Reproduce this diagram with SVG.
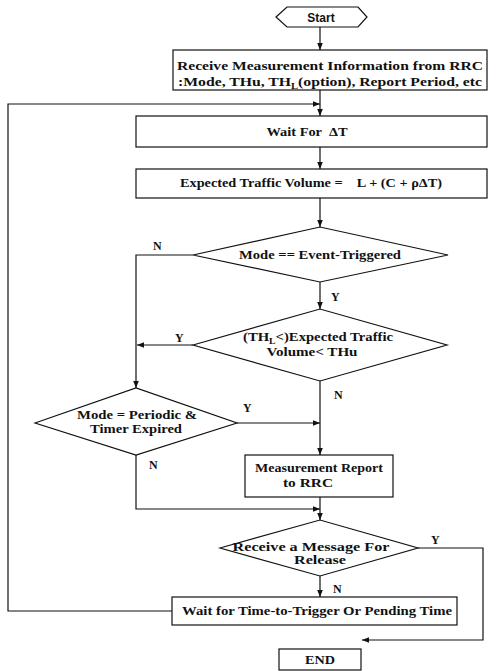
<svg xmlns="http://www.w3.org/2000/svg" width="501" height="671" viewBox="0 0 501 671">
<defs>
<marker id="ah" viewBox="0 0 10 10" refX="10" refY="5" markerWidth="7" markerHeight="7" markerUnits="userSpaceOnUse" orient="auto">
<path d="M0,1 L10,5 L0,9 Z" fill="#111"/>
</marker>
</defs>
<style>
.s{fill:#fff;stroke:#111;stroke-width:1.2}
.t{font-family:"Liberation Serif","Times New Roman",serif;font-size:12px;font-weight:bold;fill:#111;text-anchor:middle;white-space:pre}
.l{font-family:"Liberation Serif","Times New Roman",serif;font-size:12px;font-weight:bold;fill:#111}
.c{fill:none;stroke:#111;stroke-width:1.2;marker-end:url(#ah)}
.p{fill:none;stroke:#111;stroke-width:1.2}
</style>
<rect width="501" height="671" fill="#fff"/>
<g id="connectors">
<path class="c" d="M320,27 V50"/>
<path class="c" d="M320,90 V116"/>
<path class="c" d="M172,611 H8 V104 H320"/>
<path class="c" d="M320,147 V169"/>
<path class="c" d="M320,198 V227"/>
<path class="c" d="M193,255 H136 V388"/>
<path class="c" d="M320,282 V309"/>
<path class="c" d="M193,345 H137"/>
<path class="c" d="M320,381 V455"/>
<path class="c" d="M237,423 H320"/>
<path class="c" d="M136,455 V509 H320"/>
<path class="c" d="M320,497 V520"/>
<path class="c" d="M418,548 H483 V640 H362"/>
<path class="c" d="M320,576 V597"/>
<text class="l" x="153" y="250">N</text>
<text class="l" x="331" y="301">Y</text>
<text class="l" x="175" y="342">Y</text>
<text class="l" x="334" y="399">N</text>
<text class="l" x="243" y="412">Y</text>
<text class="l" x="149" y="469">N</text>
<text class="l" x="431" y="544">Y</text>
<text class="l" x="333" y="593">N</text>
</g>
<g id="start">
<polygon class="s" points="276,17 287,7 358,7 367,17 358,27 287,27"/>
<text x="321" y="21.500" style="font-family:'Liberation Sans',Arial,sans-serif;font-size:12px;font-weight:bold;fill:#111;text-anchor:middle">Start</text>
</g>
<g id="receive-info">
<rect class="s" x="173" y="50" width="314" height="40"/>
<text class="t" x="330" y="70" textLength="306" lengthAdjust="spacingAndGlyphs">Receive Measurement Information from RRC</text>
<text class="t" x="330" y="86" textLength="304" lengthAdjust="spacingAndGlyphs">:Mode, THu, TH<tspan font-size="8" dy="3">L</tspan><tspan dy="-3">(option), Report Period, etc</tspan></text>
</g>
<g id="wait-dt">
<rect class="s" x="136" y="116" width="351" height="31"/>
<text class="t" x="307" y="136" textLength="81" lengthAdjust="spacingAndGlyphs" xml:space="preserve">Wait For  ΔT</text>
</g>
<g id="expected-volume">
<rect class="s" x="136" y="169" width="351" height="29"/>
<text class="t" x="311" y="187" textLength="262" lengthAdjust="spacingAndGlyphs" xml:space="preserve">Expected Traffic Volume =    L + (C + ρΔT)</text>
</g>
<g id="mode-event">
<polygon class="s" points="193,255 320,227 448,255 320,282"/>
<text class="t" x="320" y="259" textLength="162" lengthAdjust="spacingAndGlyphs">Mode == Event-Triggered</text>
</g>
<g id="threshold-check">
<polygon class="s" points="193,345 320,309 447,345 320,381"/>
<text class="t" x="318" y="341" textLength="150" lengthAdjust="spacingAndGlyphs">(TH<tspan font-size="8" dy="3">L</tspan><tspan dy="-3">&lt;)Expected Traffic</tspan></text>
<text class="t" x="312" y="356" textLength="91" lengthAdjust="spacingAndGlyphs">Volume&lt; THu</text>
</g>
<g id="mode-periodic">
<polygon class="s" points="35,423 136,388 237,423 136,455"/>
<text class="t" x="137" y="419" textLength="120" lengthAdjust="spacingAndGlyphs">Mode = Periodic &amp;</text>
<text class="t" x="136" y="433" textLength="92" lengthAdjust="spacingAndGlyphs">Timer Expired</text>
</g>
<g id="measurement-report">
<rect class="s" x="245" y="455" width="148" height="42"/>
<text class="t" x="319" y="472" textLength="128" lengthAdjust="spacingAndGlyphs">Measurement Report</text>
<text class="t" x="308" y="487" textLength="50" lengthAdjust="spacingAndGlyphs">to RRC</text>
</g>
<g id="release-check">
<polygon class="s" points="220,548 320,520 418,548 320,576"/>
<text class="t" x="311" y="551" textLength="157" lengthAdjust="spacingAndGlyphs">Receive a Message For</text>
<text class="t" x="320" y="564" textLength="52" lengthAdjust="spacingAndGlyphs">Release</text>
</g>
<g id="wait-trigger">
<rect class="s" x="172" y="597" width="285" height="28"/>
<text class="t" x="317" y="615" textLength="270" lengthAdjust="spacingAndGlyphs">Wait for Time-to-Trigger Or Pending Time</text>
</g>
<g id="end">
<rect class="s" x="279" y="649" width="82" height="21"/>
<text class="t" x="320" y="664" textLength="30" lengthAdjust="spacingAndGlyphs">END</text>
</g>
</svg>
